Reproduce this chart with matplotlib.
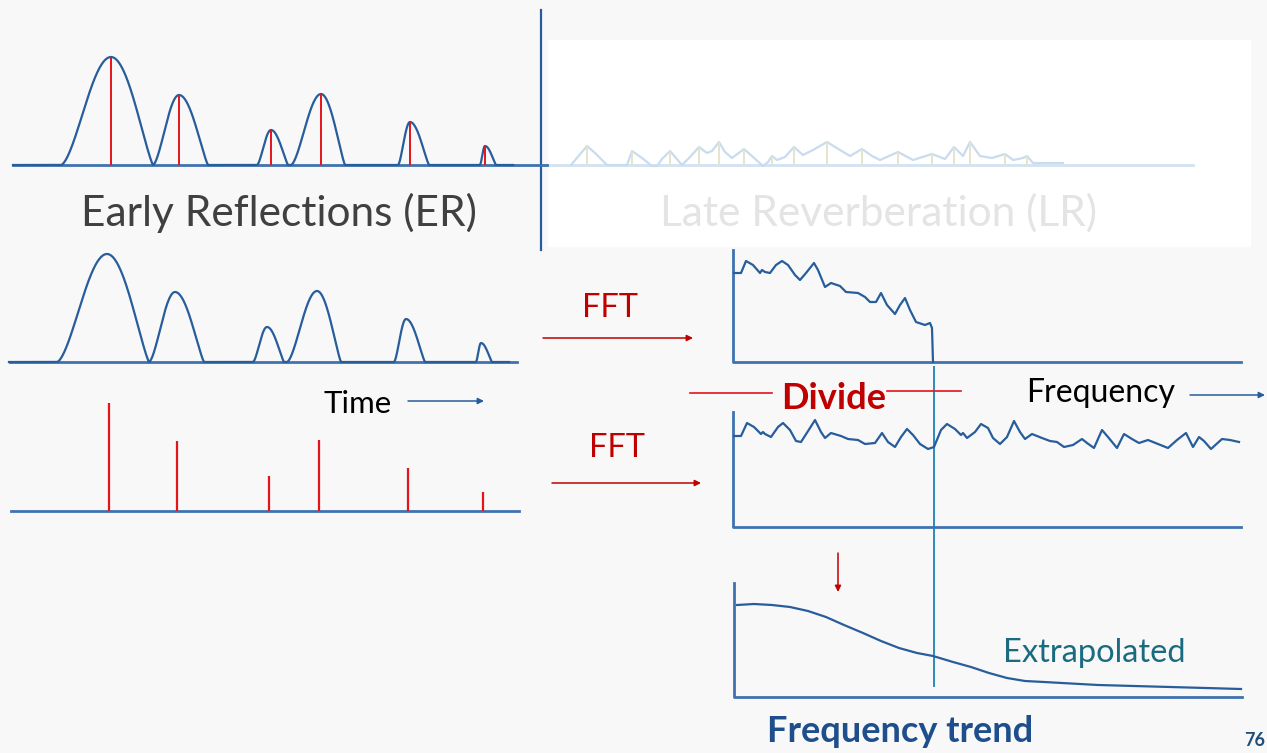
import numpy as np
import matplotlib.pyplot as plt

W, H = 1267, 753

# early reflections: time / amplitude in px from the panel origin
er_peak = [98, 166, 258, 308, 397, 472]
er_start = [48, 140, 244, 278, 385, 467]
er_end = [140, 195, 275, 332, 416, 483]
er_height = [108, 70, 35, 71, 43, 19]

# late reverberation (faded), same time axis as the ER panel
lr_t = [558, 574, 582, 594, 614, 619, 629, 639, 644, 649, 657, 669, 677, 686, 694, 699,
        706, 712, 719, 731, 740, 750, 755, 759, 764, 772, 781, 790, 800, 814, 827, 837,
        849, 859, 867, 885, 900, 919, 932, 941, 950, 957, 967, 979, 992, 1000, 1010,
        1014, 1020, 1050]
lr_a = [0, 19, 12, 0, 0, 14, 7, -1, -1, 6, 14, 0, 8, 18, 12, 14,
        23, 13, 7, 16, 8, -1, 3, 9, 5, 8, 18, 10, 15, 23, 15, 9,
        16, 9, 5, 13, 5, 11, 6, 18, 9, 23, 9, 7, 11, 5, 7,
        9, 2, 2]
lr_mark_t = [574, 619, 657, 686, 706, 731, 759, 781, 814, 849, 885, 919, 941, 957, 992, 1014]
lr_mark_a = [19, 14, 14, 18, 23, 16, 9, 18, 23, 16, 13, 11, 18, 23, 11, 9]

# spectrum of the early reflections
spec1_f = [1, 8, 13, 20, 27, 29, 32, 37, 43, 49, 55, 62, 67, 73, 81, 85, 92, 98, 107, 113,
           125, 132, 137, 143, 148, 154, 162, 167, 172, 177, 183, 192, 197, 199, 200]
spec1_m = [89, 89, 101, 97, 89, 92, 90, 89, 97, 101, 97, 87, 82, 89, 99, 92, 75, 79, 76, 70,
           69, 65, 60, 60, 69, 57, 48, 57, 64, 52, 40, 37, 39, 34, 0]

# spectrum of the impulses
spec2_f = [1, 8, 14, 21, 28, 30, 32, 38, 45, 50, 57, 63, 68, 77, 82, 88, 92, 98, 108, 115,
           125, 132, 142, 149, 155, 162, 168, 174, 180, 187, 195, 201, 208, 214, 222, 228,
           230, 234, 242, 248, 255, 260, 267, 274, 281, 287, 292, 299, 309, 317, 324, 331,
           340, 349, 354, 361, 369, 375, 384, 391, 399, 406, 415, 425, 435, 444, 453, 460,
           466, 471, 478, 489, 497, 506]
spec2_m = [91, 91, 104, 100, 93, 95, 93, 90, 100, 104, 97, 86, 85, 99, 107, 95, 89, 94, 91, 88,
           87, 83, 84, 94, 85, 80, 90, 98, 92, 83, 78, 80, 97, 103, 98, 92,
           94, 89, 95, 103, 99, 89, 83, 90, 106, 95, 88, 93, 89, 86, 85, 80,
           82, 88, 84, 79, 97, 90, 79, 93, 88, 84, 87, 83, 79, 87, 94, 80,
           90, 86, 78, 88, 87, 85]

# smoothed / extrapolated trend
trend_f = [3, 20, 38, 56, 74, 92, 110, 129, 147, 165, 183, 199, 219, 237, 255, 273,
           291, 310, 328, 364, 400, 436, 472, 507]
trend_m = [92, 93, 92, 90, 86, 80, 72, 64, 56, 49, 44, 41, 35, 30, 24, 19,
           16, 15, 14, 12, 11, 10, 9, 8]

BLUE = '#285d9c'
AXBLUE = '#3f72b0'
RED = '#e3141b'
DARKRED = '#c00000'
TEAL = '#2b8bbd'

fig = plt.figure(figsize=(W / 100, H / 100), dpi=100)
fig.patch.set_facecolor('#f8f8f8')

ov = fig.add_axes([0, 0, 1, 1])
ov.set_xlim(0, W)
ov.set_ylim(H, 0)
ov.axis('off')


def panel(x0, base, w, h):
    ax = fig.add_axes([x0 / W, (H - base) / H, w / W, h / H])
    ax.set_xlim(0, w)
    ax.set_ylim(0, h)
    ax.axis('off')
    ax.patch.set_alpha(0)
    return ax


def er_curve(t):
    y = np.zeros_like(t)
    for p, s, e, h in zip(er_peak, er_start, er_end, er_height):
        left = (t >= s) & (t <= p)
        right = (t > p) & (t <= e)
        y[left] = h * np.sin(np.pi / 2 * (t[left] - s) / (p - s)) ** 1.6
        y[right] = h * np.sin(np.pi / 2 * (e - t[right]) / (e - p)) ** 1.2
    return y


# white box behind the late reverberation
ov.add_patch(plt.Rectangle((548, 40), 702, 206, color='white', zorder=0))

t = np.linspace(0, 500, 1500)

# top: ER + faded LR
a1 = panel(13, 165, 1240, 160)
a1.plot([532, 1180], [0, 0], color='#d3e2f1', lw=2, clip_on=False)
a1.plot(lr_t, lr_a, color='#c9dcef', lw=1.6, clip_on=False, solid_joinstyle='round')
a1.vlines(lr_mark_t, 0, lr_mark_a, color='#e6e4cc', lw=1.4)
a1.plot([0, 534], [0, 0], color=AXBLUE, lw=2, clip_on=False)
a1.plot(t, er_curve(t), color=BLUE, lw=1.6, clip_on=False)
a1.vlines(er_peak, 0, er_height, color=RED, lw=1.4)

# separator
ov.plot([541, 541], [10, 250], color=BLUE, lw=1.6)

# second row: ER waveform
a2 = panel(9, 362, 520, 120)
a2.plot([1, 508], [0, 0], color=AXBLUE, lw=2, clip_on=False)
a2.plot(t, er_curve(t), color=BLUE, lw=1.6, clip_on=False)

# third row: impulses
a3 = panel(11, 511, 520, 120)
a3.plot([0, 508], [0, 0], color=AXBLUE, lw=2, clip_on=False)
a3.vlines(er_peak, 0, er_height, color=RED, lw=1.6)

# spectrum panels
s1 = panel(733, 362, 510, 115)
s1.plot([0, 0, 508], [112, 0, 0], color=AXBLUE, lw=2, clip_on=False)
s1.plot(spec1_f, spec1_m, color=BLUE, lw=1.6, clip_on=False, solid_joinstyle='round')

s2 = panel(733, 527, 510, 118)
s2.plot([0, 0, 508], [115, 0, 0], color=AXBLUE, lw=2, clip_on=False)
s2.plot(spec2_f, spec2_m, color=BLUE, lw=1.6, clip_on=False, solid_joinstyle='round')

s3 = panel(734, 697, 510, 118)
s3.plot([0, 0, 508], [114, 0, 0], color=AXBLUE, lw=2, clip_on=False)
s3.plot(trend_f, trend_m, color=BLUE, lw=1.6, clip_on=False, solid_joinstyle='round')

# cut-off line
ov.plot([934, 934], [367, 686], color=TEAL, lw=1.4)

# arrows
arr = dict(arrowstyle='-|>', mutation_scale=9, lw=1.1, shrinkA=0, shrinkB=0)
ov.annotate('', xy=(693, 338), xytext=(543, 338), arrowprops=dict(arr, color=DARKRED))
ov.annotate('', xy=(701, 483), xytext=(552, 483), arrowprops=dict(arr, color=DARKRED))
ov.annotate('', xy=(484, 401), xytext=(408, 401), arrowprops=dict(arr, color=BLUE))
ov.annotate('', xy=(1265, 395), xytext=(1190, 395), arrowprops=dict(arr, color=BLUE))
ov.annotate('', xy=(838, 592), xytext=(838, 553), arrowprops=dict(arr, color=DARKRED))
ov.plot([690, 772], [393, 393], color=RED, lw=1.2)
ov.plot([887, 961], [391, 391], color=RED, lw=1.2)

# texts
f = 'Lato'
ov.text(279, 213, 'Early Reflections (ER)', fontsize=30.5, color='#404040', ha='center', va='center', family=f)
ov.text(878, 213, 'Late Reverberation (LR)', fontsize=30.5, color='#e4e4e4', ha='center', va='center', family=f)
ov.text(610, 308, 'FFT', fontsize=23.5, color=DARKRED, ha='center', va='center', family=f)
ov.text(617, 448, 'FFT', fontsize=23.5, color=DARKRED, ha='center', va='center', family=f)
ov.text(358, 404, 'Time', fontsize=22.5, color='black', ha='center', va='center', family=f)
ov.text(1101, 393, 'Frequency', fontsize=23, color='black', ha='center', va='center', family=f)
ov.text(834, 398, 'Divide', fontsize=26, color=DARKRED, ha='center', va='center', family=f, weight='bold')
ov.text(1094, 653, 'Extrapolated', fontsize=23.5, color='#1a6b80', ha='center', va='center', family=f)
ov.text(900, 732, 'Frequency trend', fontsize=26, color='#1f4e8c', ha='center', va='center', family=f, weight='bold')
ov.text(1265, 740, '76', fontsize=13, color='#1f4e79', ha='right', va='center', family=f, weight='bold')

fig.savefig('out.png', dpi=100, facecolor=fig.get_facecolor())
